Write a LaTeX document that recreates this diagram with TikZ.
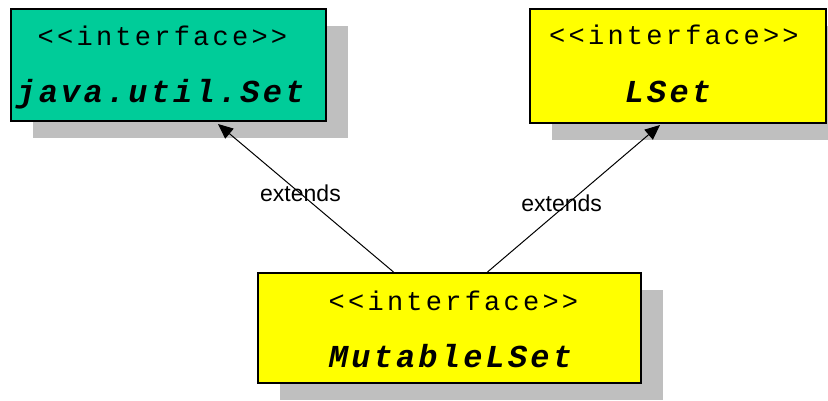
\documentclass[tikz,border=0pt]{standalone}
\usepackage{fontspec}
\usepackage{tikz}
\usetikzlibrary{calc}
\usetikzlibrary{shadows}
\usetikzlibrary{arrows.meta}
\newfontfamily\umlmono[LetterSpace=12]{Liberation Mono}
\newfontfamily\umlname[LetterSpace=10]{Liberation Mono}
\setmainfont{Liberation Sans}
\definecolor{ifgreen}{RGB}{0,204,153}
\definecolor{ifyellow}{RGB}{255,255,0}
\tikzset{
  box/.style        = { rectangle, inner sep=0pt },
  border/.style     = { line width=2pt, draw=black },
  shade/.style      = { drop shadow={shadow xshift=22pt, shadow yshift=-17pt,
                                     fill=black!25, opacity=1} },
  iface/.style      = { box, border, shade },
  stereo/.style     = { font=\umlmono\fontsize{27}{30}\selectfont },
  cname/.style      = { font=\umlname\fontsize{32}{36}\selectfont\bfseries\itshape },
}
\begin{document}
\begin{tikzpicture}[
  x=1pt,y=-1pt,
  ,>={Triangle[length=15pt,width=13pt]},line width=1pt,text=black,
  lbl/.style={font=\fontsize{23}{26}\selectfont}
]
  \useasboundingbox (0,0) rectangle (828,401);

  \node (jset) [iface,fill=ifgreen,minimum width=315pt,minimum height=112pt]  at (168.5,65) {};
  \node (lset) [iface,fill=ifyellow,minimum width=296pt,minimum height=114pt] at (678,66)   {};
  \node (mset) [iface,fill=ifyellow,minimum width=383pt,minimum height=110pt] at (449.5,328) {};

  \node (jsetst) [stereo] at ($ (jset.north) + (-6,28) $) {<<interface>>};
  \node (jsetnm) [cname]  at ($ (jset.north) + (-8,86) $) {java.util.Set};
  \node (lsetst) [stereo] at ($ (lset.north) + (-4,27) $) {<<interface>>};
  \node (lsetnm) [cname]  at ($ (lset.north) + (-10,84) $) {LSet};
  \node (msetst) [stereo] at ($ (mset.north) + (4,29) $) {<<interface>>};
  \node (msetnm) [cname]  at ($ (mset.north) + (1,84) $) {MutableLSet};

  \coordinate (jtip) at (218,124);
  \coordinate (ltip) at (660,125);

  \draw [->] ($ (mset.north) + (-56,0) $) -- (jtip)
        node [lbl,pos=0.53] {extends};
  \draw [->] ($ (mset.north) + (38,0) $) -- (ltip)
        node [lbl,pos=0.43,yshift=6pt] {extends};

\end{tikzpicture}
\end{document}
